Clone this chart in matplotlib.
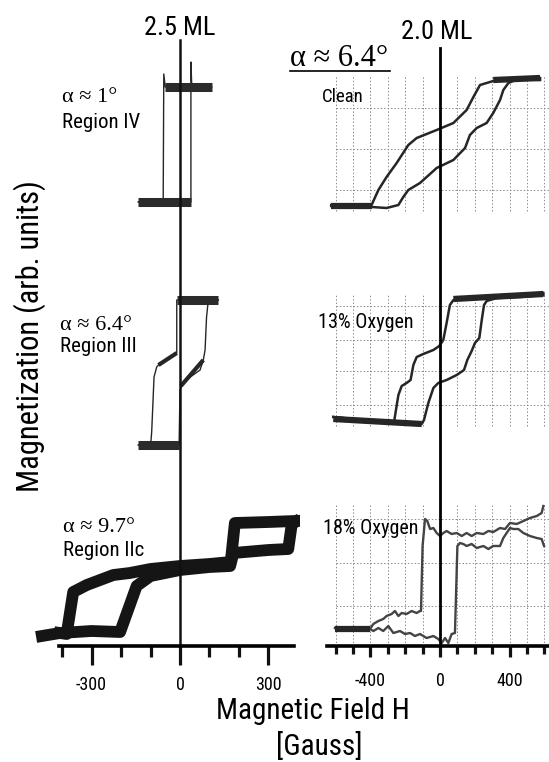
import matplotlib
matplotlib.use('Agg')
import numpy as np
import matplotlib.pyplot as plt
from matplotlib import font_manager
from matplotlib.lines import Line2D

W, H = 549, 762

# narrow sans face for the labels, serif for the alpha labels
fm = font_manager.fontManager
names = {f.name for f in fm.ttflist}
if 'Liberation Sans Narrow' in names:
    SANS = dict(family='Liberation Sans Narrow')
elif 'Roboto Condensed' in names:
    SANS = dict(family='Roboto Condensed')
elif any(f.name == 'DejaVu Sans' and 'Condensed' in f.fname for f in fm.ttflist):
    SANS = dict(family='DejaVu Sans', stretch='condensed')
else:
    SANS = dict(family='Roboto')
SERIF = dict(family=['Liberation Serif', 'DejaVu Serif'])

# ---------------- data: field H [Gauss], magnetization [arb. units, stacked] ----------------
# 2.5 ML, Region IV (alpha ~ 1 deg)
r4_up_h = [-141, 37, 37, 40, 107]
r4_up_m = [444, 444, 584, 559, 559]
r4_dn_h = [107, -50, -55, -57, -141]
r4_dn_m = [559, 559, 572, 444, 444]
r4_band_h = [[-141, 37], [-50, 107]]
r4_band_m = [[444, 444], [559, 559]]

# 2.5 ML, Region III (alpha ~ 6.4 deg)
r3_up_h = [-141, -3, 0, 11, 68, 79, 85, 90, 96, 130]
r3_up_m = [201, 201, 256, 264, 276, 286, 296, 329, 346, 346]
r3_dn_h = [130, -11, -11, -73, -79, -88, -96, -99, -141]
r3_dn_m = [346, 346, 293, 281, 279, 269, 214, 203, 201]
r3_band_h = [[-141, -3], [-11, 130]]
r3_band_m = [[201, 201], [346, 346]]
r3_step_h = [[-73, -11], [3, 79]]
r3_step_m = [[281, 293], [260, 286]]

# 2.5 ML, Region IIc (alpha ~ 9.7 deg)
r2_up_h = [-468, -407, -300, -203, -147, -100, 0, 100, 170, 181, 300, 367, 379, 390]
r2_up_m = [10, 13, 15, 14, 60, 70, 76, 79, 80, 93, 96, 97, 122, 124]
r2_dn_h = [390, 300, 186, 172, 100, 0, -100, -170, -226, -316, -362, -380, -384, -407]
r2_dn_m = [125, 124, 123, 84, 82, 80, 77, 73, 71, 61, 54, 20, 12, 13]

# 2.0 ML clean
cl_up_h = [-625, -393, -307, -239, -211, -182, -115, -19, 77, 144, 172, 211, 268, 306, 345, 364, 393, 460, 575]
cl_up_m = [441, 439, 438, 441, 449, 456, 463, 478, 486, 498, 511, 518, 523, 533, 546, 556, 563, 568, 568]
cl_dn_h = [575, 383, 306, 230, 192, 153, 77, -19, -134, -182, -249, -307, -354, -393, -625]
cl_dn_m = [566, 567, 565, 561, 549, 536, 523, 516, 508, 501, 483, 469, 456, 441, 440]
cl_band_h = [[-625, -393], [306, 575]]
cl_band_m = [[440, 440], [566, 568]]

# 2.0 ML, 13% oxygen
ox13_dn_h = [-613, -460, -264, -253, -239, -220, -192, -169, -153, -134, -96, -38, -4, 19, 38, 57, 77, 172, 364, 594]
ox13_dn_m = [229, 226, 224, 236, 251, 260, 263, 266, 281, 289, 292, 296, 300, 306, 323, 341, 346, 348, 350, 353]
ox13_up_h = [-613, -264, -105, -92, -67, -38, -10, 38, 96, 138, 157, 182, 201, 226, 240, 253, 268, 326, 460, 594]
ox13_up_m = [229, 223, 222, 226, 243, 258, 263, 266, 271, 276, 286, 295, 303, 308, 326, 341, 345, 348, 349, 351]
ox13_band_h = [[-613, -105], [77, 594]]
ox13_band_m = [[227, 222], [347, 352]]

# 2.0 ML, 18% oxygen
ox18_dn_h = [-603, -498, -402, -383, -354, -326, -307, -278, -259, -239, -220, -192, -163, -134, -115,
             -109, -100, -86, -73, -57, -38, -19, 0, 19, 38, 67, 96, 125, 153, 182, 211, 249, 278, 306,
             345, 374, 402, 441, 479, 517, 556, 584, 594]
ox18_dn_m = [18, 17, 17, 22, 25, 27, 30, 32, 35, 30, 33, 32, 35, 33, 35,
             35, 100, 127, 125, 117, 118, 113, 110, 113, 115, 112, 113, 110, 113, 110, 113, 112, 115, 114,
             118, 117, 123, 122, 125, 128, 130, 133, 140]
ox18_up_h = [-603, -498, -402, -383, -354, -326, -297, -268, -230, -201, -172, -144, -115, -77, -38,
             -10, 10, 29, 48, 67, 86, 92, 100, 115, 134, 153, 182, 211, 249, 278, 306, 345, 364, 383,
             402, 421, 450, 479, 517, 556, 584, 598]
ox18_up_m = [18, 17, 17, 15, 18, 15, 20, 13, 15, 12, 13, 10, 12, 8, 10,
             7, 3, 8, 3, 12, 13, 50, 100, 103, 102, 100, 102, 98, 100, 97, 100, 100, 108, 113,
             118, 117, 117, 113, 110, 108, 107, 100]
ox18_band_h = [[-603, -402]]
ox18_band_m = [[17, 17]]

# dotted oscilloscope grid behind the 2.0 ML traces (y levels and vertical extent)
grid_rows = [[456, 497, 538], [241, 275, 306, 340], [40, 83, 127]]
grid_spans = [[435, 570], [220, 352], [0, 142]]
grid_cols = np.arange(-600, 601, 100)

# ---------------- figure ----------------
fig = plt.figure(figsize=(W / 100, H / 100), dpi=100)
fig.patch.set_facecolor('white')


def px_axes(x0, x1, y0, y1):
    return fig.add_axes([x0 / W, 1 - y1 / H, (x1 - x0) / W, (y1 - y0) / H])


def fx(x):
    return x / W


def fy(y):
    return 1 - y / H


TR = '#262626'
axL = px_axes(30, 300, 30, 646)
axR = px_axes(322, 549, 30, 646)
axL.set_xlim(-508.5, 406.8)
axR.set_xlim(-678, 626.4)
for ax in (axL, axR):
    ax.set_ylim(0, 616)
    ax.set_facecolor('none')
    for s in ('top', 'left', 'right'):
        ax.spines[s].set_visible(False)
    ax.spines['bottom'].set_linewidth(2.6)
    ax.set_yticks([])

# left panel traces
for hh, mm in ((r4_up_h, r4_up_m), (r4_dn_h, r4_dn_m), (r3_up_h, r3_up_m), (r3_dn_h, r3_dn_m)):
    axL.plot(hh, mm, color=TR, lw=1.0)
for hh, mm in zip(r4_band_h + r3_band_h, r4_band_m + r3_band_m):
    axL.plot(hh, mm, color='#2b2b2b', lw=6.5, solid_capstyle='butt')
for hh, mm in zip(r3_step_h, r3_step_m):
    axL.plot(hh, mm, color=TR, lw=3, solid_capstyle='butt')
axL.plot(r2_up_h, r2_up_m, color='#151515', lw=8.5, solid_joinstyle='round')
axL.plot(r2_dn_h, r2_dn_m, color='#151515', lw=8.5, solid_joinstyle='round')
axL.axvline(0, ymax=606 / 616, color='#111111', lw=1.8)

# right panel grid
for rows, span in zip(grid_rows, grid_spans):
    axR.vlines(grid_cols, span[0], span[1], colors='#8c8c8c', lw=0.7, linestyles=(0, (1.5, 2)))
    axR.hlines(rows, -600, 626, colors='#8c8c8c', lw=0.7, linestyles=(0, (1.5, 2)))

# right panel traces
for hh, mm in ((cl_up_h, cl_up_m), (cl_dn_h, cl_dn_m), (ox13_up_h, ox13_up_m), (ox13_dn_h, ox13_dn_m)):
    axR.plot(hh, mm, color=TR, lw=1.8)
for hh, mm in ((ox18_up_h, ox18_up_m), (ox18_dn_h, ox18_dn_m)):
    axR.plot(hh, mm, color='#444444', lw=1.7)
for hh, mm in zip(cl_band_h + ox13_band_h + ox18_band_h, cl_band_m + ox13_band_m + ox18_band_m):
    axR.plot(hh, mm, color=TR, lw=4.5, solid_capstyle='butt')
axR.axvline(0, ymax=598 / 616, color='#000000', lw=2.0)

# axes ticks
axL.spines['bottom'].set_bounds(-410, 385)
axR.spines['bottom'].set_bounds(-650, 626)
axL.set_xticks([-300, 0, 300])
axL.set_xticks([-400, -200, -100, 100, 200], minor=True)
axL.set_xticklabels(['-300', '0', '300'], fontsize=13, **SANS)
axL.tick_params(which='major', length=13.5, width=2.3, pad=8, color='#111111')
axL.tick_params(which='minor', length=8, width=2.3, color='#111111')
axR.set_xticks([-400, 0, 400])
axR.set_xticks([-600, -500, -300, -200, -100, 100, 200, 300, 500, 600], minor=True)
axR.set_xticklabels(['-400', '0', '400'], fontsize=13, **SANS)
axR.tick_params(which='major', length=8, width=2.3, pad=11, color='#111111')
axR.tick_params(which='minor', length=6, width=2.3, color='#111111')

# panel titles and annotations
fig.text(fx(180), fy(28), '2.5 ML', fontsize=19, ha='center', va='center', **SANS)
fig.text(fx(437), fy(32), '2.0 ML', fontsize=19, ha='center', va='center', **SANS)

left_alpha = [('\u03b1 \u2248 1\u00b0', 'Region IV', 62, 98, 122),
              ('\u03b1 \u2248 6.4\u00b0', 'Region III', 60, 325, 347),
              ('\u03b1 \u2248 9.7\u00b0', 'Region IIc', 63, 528, 550)]
for a_txt, r_txt, x, y1, y2 in left_alpha:
    fig.text(fx(x), fy(y1), a_txt, fontsize=16, ha='left', va='center', **SERIF)
    fig.text(fx(x), fy(y2), r_txt, fontsize=15, ha='left', va='center', **SANS)

fig.text(fx(290), fy(59), '\u03b1 \u2248 6.4\u00b0', fontsize=22, ha='left', va='center', **SERIF)
fig.add_artist(Line2D([fx(290), fx(390)], [fy(71), fy(71)], color='black', lw=1.2))

fig.text(fx(322), fy(97), 'Clean', fontsize=13.5, ha='left', va='center', **SANS)
fig.text(fx(318), fy(322), '13% Oxygen', fontsize=14.5, ha='left', va='center', **SANS)
fig.text(fx(323), fy(528), '18% Oxygen', fontsize=14.5, ha='left', va='center', **SANS)

fig.text(fx(30), fy(336), 'Magnetization (arb. units)', fontsize=22, rotation=90,
         ha='center', va='center', **SANS)
fig.text(fx(313), fy(711), 'Magnetic Field H', fontsize=21, ha='center', va='center', **SANS)
fig.text(fx(319), fy(746), '[Gauss]', fontsize=21, ha='center', va='center', **SANS)

fig.savefig('out.png', dpi=100)
